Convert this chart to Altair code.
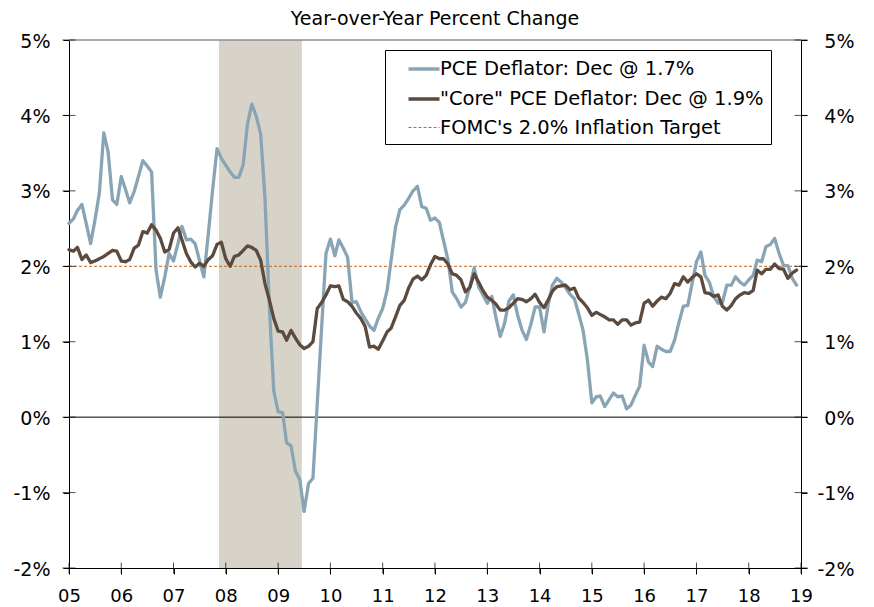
import altair as alt
import pandas as pd

FONT = "DejaVu Sans"

# ---------------- data ----------------
months = pd.date_range("2005-01-01", periods=168, freq="MS").strftime("%Y-%m-%d").tolist()

pce = [
    2.57, 2.63, 2.74, 2.82, 2.57, 2.30, 2.61, 2.97, 3.77, 3.52, 2.88, 2.82,
    3.19, 3.01, 2.84, 2.99, 3.19, 3.40, 3.33, 3.25, 1.95, 1.59, 1.86, 2.17,
    2.07, 2.30, 2.53, 2.35, 2.36, 2.30, 2.08, 1.86, 2.43, 3.01, 3.56, 3.43,
    3.34, 3.25, 3.18, 3.18, 3.34, 3.89, 4.15, 3.99, 3.75, 2.90, 1.45, 0.35,
    0.07, 0.06, -0.34, -0.38, -0.71, -0.83, -1.25, -0.88, -0.81, 0.18, 1.20, 2.17,
    2.36, 2.14, 2.35, 2.24, 2.12, 1.52, 1.53, 1.40, 1.30, 1.21, 1.15, 1.31,
    1.44, 1.68, 2.08, 2.52, 2.75, 2.81, 2.90, 3.00, 3.06, 2.79, 2.77, 2.61,
    2.64, 2.58, 2.34, 2.09, 1.66, 1.57, 1.46, 1.52, 1.73, 1.98, 1.73, 1.62,
    1.51, 1.60, 1.33, 1.07, 1.24, 1.54, 1.62, 1.35, 1.15, 1.03, 1.23, 1.46,
    1.46, 1.13, 1.48, 1.75, 1.84, 1.79, 1.72, 1.63, 1.57, 1.37, 1.15, 0.76,
    0.19, 0.27, 0.28, 0.14, 0.23, 0.32, 0.27, 0.28, 0.11, 0.16, 0.29, 0.41,
    0.95, 0.73, 0.67, 0.94, 0.90, 0.87, 0.87, 1.02, 1.26, 1.47, 1.48, 1.77,
    2.06, 2.19, 1.88, 1.79, 1.60, 1.51, 1.52, 1.75, 1.75, 1.86, 1.79, 1.75,
    1.82, 1.88, 2.08, 2.06, 2.26, 2.29, 2.37, 2.17, 2.01, 2.01, 1.84, 1.75,
]

core = [
    2.22, 2.20, 2.25, 2.09, 2.15, 2.05, 2.07, 2.10, 2.13, 2.17, 2.21, 2.20,
    2.07, 2.06, 2.09, 2.24, 2.28, 2.46, 2.44, 2.55, 2.48, 2.37, 2.19, 2.22,
    2.44, 2.51, 2.35, 2.17, 2.06, 1.99, 2.04, 2.00, 2.09, 2.14, 2.29, 2.32,
    2.10, 2.00, 2.13, 2.15, 2.21, 2.27, 2.25, 2.21, 2.08, 1.77, 1.55, 1.31,
    1.14, 1.13, 1.02, 1.15, 1.05, 0.96, 0.91, 0.94, 1.00, 1.44, 1.52, 1.62,
    1.74, 1.73, 1.74, 1.56, 1.53, 1.47, 1.38, 1.31, 1.20, 0.93, 0.94, 0.90,
    1.01, 1.13, 1.18, 1.33, 1.48, 1.55, 1.71, 1.83, 1.87, 1.82, 1.88, 2.02,
    2.13, 2.10, 2.10, 2.03, 1.90, 1.88, 1.82, 1.66, 1.72, 1.90, 1.79, 1.68,
    1.59, 1.55, 1.50, 1.42, 1.42, 1.45, 1.51, 1.57, 1.56, 1.53, 1.57, 1.63,
    1.52, 1.45, 1.55, 1.67, 1.73, 1.74, 1.75, 1.69, 1.71, 1.58, 1.52, 1.45,
    1.35, 1.39, 1.36, 1.33, 1.29, 1.29, 1.23, 1.29, 1.29, 1.22, 1.25, 1.26,
    1.51, 1.55, 1.47, 1.54, 1.59, 1.57, 1.64, 1.77, 1.75, 1.86, 1.79, 1.85,
    1.90, 1.86, 1.65, 1.64, 1.60, 1.62, 1.47, 1.42, 1.48, 1.57, 1.62, 1.65,
    1.64, 1.68, 1.95, 1.90, 1.96, 1.96, 2.03, 1.97, 1.96, 1.84, 1.91, 1.95,
]

series_names = [
    "PCE Deflator: Dec @ 1.7%",
    "\"Core\" PCE Deflator: Dec @ 1.9%",
    "FOMC's 2.0% Inflation Target",
]
target_value = 2.0
target_span = ["2005-01-01", "2019-01-01"]
recession_start = ["2007-11-15"]
recession_end = ["2009-06-15"]
year_ticks = [f"{y}-01-01" for y in range(2005, 2020)]
pct_ticks = [-2, -1, 0, 1, 2, 3, 4, 5]
title_text = "Year-over-Year Percent Change"

# ---------------- styles ----------------
series_colors = ["#89a4b4", "#5b4a3d", "#c4661c"]
series_dash = [[1, 0], [1, 0], [3, 2]]
series_width = [3.3, 3.3, 1.0]

assert len(pce) == len(months) and len(core) == len(months)

pce_df = pd.DataFrame({"date": months, "value": pce, "series": series_names[0]})
core_df = pd.DataFrame({"date": months, "value": core, "series": series_names[1]})
target_df = pd.DataFrame({"date": target_span, "value": [target_value] * 2, "series": series_names[2]})
rec_df = pd.DataFrame({"start": recession_start, "end": recession_end})
top_df = pd.DataFrame({"v": [pct_ticks[-1]]})
zero_df = pd.DataFrame({"v": [0]})
xtick_df = pd.DataFrame({"date": year_ticks, "v": pct_ticks[0]})
ltick_df = pd.DataFrame({"date": target_span[0], "v": pct_ticks})
rtick_df = pd.DataFrame({"date": target_span[1], "v": pct_ticks})

xs = alt.Scale(domain=[alt.DateTime(year=2005, month=1, date=1),
                       alt.DateTime(year=2019, month=1, date=1)])
ys = alt.Scale(domain=[pct_ticks[0], pct_ticks[-1]], nice=False, zero=False)

x_axis = alt.Axis(
    values=[alt.DateTime(year=int(d[:4]), month=1, date=1) for d in year_ticks],
    format="%y", labelFontSize=18, tickSize=6, labelPadding=13, grid=False,
    domainColor="black", tickColor="black", title=None, labelFlush=False,
    labelOverlap=False, labelColor="black", labelFont=FONT,
)
y_left = alt.Axis(
    values=pct_ticks, labelExpr="datum.value + '%'", labelFontSize=19,
    tickSize=6, labelPadding=13, labelOffset=1, grid=False, domainColor="black",
    tickColor="black", title=None, labelColor="black", labelFont=FONT,
)
y_right = alt.Axis(
    orient="right", values=pct_ticks, labelExpr="datum.value + '%'",
    labelFontSize=19, tickSize=6, labelPadding=47, labelAlign="right",
    labelOffset=1, grid=False, domainColor="black", tickColor="black",
    title=None, labelColor="black", labelFont=FONT,
)

legend = alt.Legend(
    orient="none", legendX=316, legendY=10, title=None,
    symbolType="M-1.55,0H1.55", symbolSize=400,
    labelFontSize=19.5, labelFont=FONT, labelColor="black",
    strokeColor="black", fillColor="white", padding=7, rowPadding=8,
    symbolOffset=20, labelOffset=4, labelLimit=600,
)

X = alt.X("date:T", scale=xs, axis=x_axis)


def series_enc(axis):
    return dict(
        x=X,
        y=alt.Y("value:Q", scale=ys, axis=axis),
        color=alt.Color("series:N", scale=alt.Scale(domain=series_names, range=series_colors), legend=legend),
        strokeDash=alt.StrokeDash("series:N", scale=alt.Scale(domain=series_names, range=series_dash), legend=legend),
        strokeWidth=alt.StrokeWidth("series:N", scale=alt.Scale(type="ordinal", domain=series_names, range=series_width), legend=legend),
    )


rec = alt.Chart(rec_df).mark_rect(color="#d7d3c8").encode(
    x=alt.X("start:T", scale=xs, axis=x_axis), x2="end:T"
)
top_rule = alt.Chart(top_df).mark_rule(color="#8c8c8c", strokeWidth=1.5).encode(
    y=alt.Y("v:Q", scale=ys, axis=None)
)
zero_rule = alt.Chart(zero_df).mark_rule(color="black", strokeWidth=1).encode(
    y=alt.Y("v:Q", scale=ys, axis=None)
)
target = alt.Chart(target_df).mark_line().encode(**series_enc(None))
pce_line = alt.Chart(pce_df).mark_line(strokeJoin="round", strokeCap="round").encode(**series_enc(y_left))
core_line = alt.Chart(core_df).mark_line(strokeJoin="round", strokeCap="round").encode(**series_enc(None))

xticks = alt.Chart(xtick_df).mark_tick(orient="vertical", size=11, thickness=1, color="black").encode(
    x=X, y=alt.Y("v:Q", scale=ys, axis=None)
)
lticks = alt.Chart(ltick_df).mark_tick(orient="horizontal", size=13, thickness=1, color="black").encode(
    x=X, y=alt.Y("v:Q", scale=ys, axis=None)
)
rticks = alt.Chart(rtick_df).mark_tick(orient="horizontal", size=13, thickness=1, color="black").encode(
    x=X, y=alt.Y("v:Q", scale=ys, axis=y_right)
)

chart = alt.layer(
    rec, top_rule, zero_rule, target, pce_line, core_line, xticks, lticks, rticks
).resolve_axis(y="independent").properties(
    width=732, height=528,
    autosize="none",
    padding={"left": 61, "top": 32, "right": 65, "bottom": 40},
    title=alt.TitleParams(title_text, fontSize=19, font=FONT, fontWeight="normal",
                          color="black", anchor="middle", offset=3),
).configure_view(stroke=None)

chart.save("out.html", embed_options={"renderer": "svg", "actions": False})
